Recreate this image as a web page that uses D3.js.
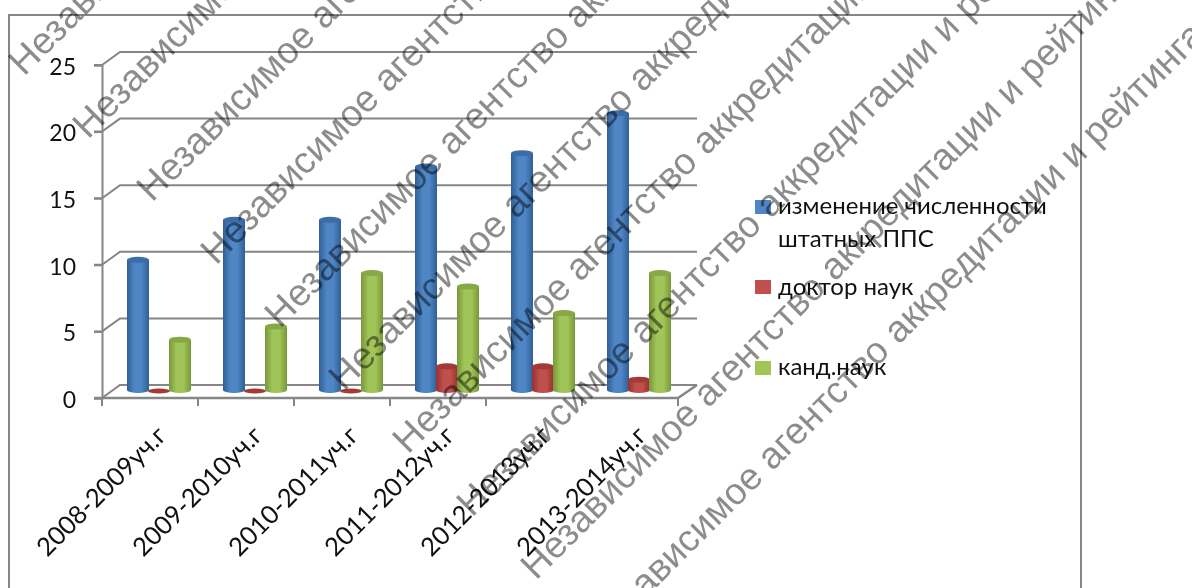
<!DOCTYPE html>
<html>
<head>
<meta charset="utf-8">
<script src="https://cdn.jsdelivr.net/npm/d3@7"></script>
<style>
html, body { margin: 0; padding: 0; background: #fff; overflow: hidden; }
svg { display: block; filter: blur(0.45px); }
</style>
</head>
<body>
<div id="chart"></div>
<script>
const categories = ["2008-2009уч.г", "2009-2010уч.г", "2010-2011уч.г", "2011-2012уч.г", "2012-2013уч.г", "2013-2014уч.г"];
const seriesNames = ["изменение численности штатных ППС", "доктор наук", "канд.наук"];
const staffChange = [10, 13, 13, 17, 18, 21];
const doctors = [0, 0, 0, 2, 2, 1];
const candidates = [4, 5, 9, 8, 6, 9];
const yTicks = [0, 5, 10, 15, 20, 25];
const watermark = "Независимое агентство аккредитации и рейтинга";

const width = 1192;
const height = 588;
const font = "Lato, sans-serif";
const gridColor = "#868686";

// depth offset of the back wall
const depth = { x: 18, y: -13 };

const svg = d3.select("#chart").append("svg")
  .attr("width", width)
  .attr("height", height);

const defs = svg.append("defs");

const palette = [
  { edge: "#2f5f94", mid: "#4f86c6", top: "#3c6da6" },
  { edge: "#93312f", mid: "#c0504d", top: "#a23b38" },
  { edge: "#76983a", mid: "#a2c55a", top: "#86a846" }
];
palette.forEach((p, i) => {
  const g = defs.append("linearGradient").attr("id", "cyl" + i);
  g.append("stop").attr("offset", "0%").attr("stop-color", p.edge);
  g.append("stop").attr("offset", "35%").attr("stop-color", p.mid);
  g.append("stop").attr("offset", "65%").attr("stop-color", p.mid);
  g.append("stop").attr("offset", "100%").attr("stop-color", p.edge);
});

const x = d3.scaleBand().domain(categories).range([102, 678]);
const y = d3.scaleLinear().domain([0, 25]).range([398, 65]);
const series = d3.scalePoint().domain(d3.range(3)).range([25, 67]);
const barW = 22;

// outer frame
svg.append("path")
  .attr("d", `M9,${height}V15H1081V${height}`)
  .attr("fill", "none")
  .attr("stroke", gridColor)
  .attr("stroke-width", 2);

// gridlines on the back wall and the wall edge
const grid = svg.append("g")
  .attr("fill", "none")
  .attr("stroke", gridColor)
  .attr("stroke-width", 2);

grid.selectAll("path")
  .data(yTicks)
  .join("path")
  .attr("d", d => `M94,${y(d)}H102L${102 + depth.x},${y(d) + depth.y}H697`);

// floor and axes
const yAxis = d3.axisLeft(y).tickValues(yTicks).tickSize(8).tickPadding(18);
const yG = svg.append("g").attr("transform", "translate(102,0)").call(yAxis);
yG.selectAll("line, path").attr("stroke", gridColor).attr("stroke-width", 2);
yG.selectAll("text")
  .attr("font-family", font)
  .attr("font-size", 23)
  .attr("fill", "#111")
  .attr("y", 2);

const tickPos = categories.map(c => x(c)).concat(678);
svg.append("g").selectAll("line")
  .data(tickPos)
  .join("line")
  .attr("x1", d => d).attr("x2", d => d)
  .attr("y1", 398).attr("y2", 406)
  .attr("stroke", gridColor)
  .attr("stroke-width", 2);

svg.append("path")
  .attr("d", `M94,398H678L697,${398 + depth.y}`)
  .attr("fill", "none")
  .attr("stroke", gridColor)
  .attr("stroke-width", 2.5);

// category labels
svg.append("g").selectAll("text")
  .data(categories)
  .join("text")
  .attr("transform", d => `translate(${x(d) + 66},437) rotate(-45)`)
  .attr("text-anchor", "end")
  .attr("font-family", font)
  .attr("font-size", 25.5)
  .attr("fill", "#111")
  .text(d => d);

// cylinders
const rows = [staffChange, doctors, candidates];
rows.forEach((values, s) => {
  const p = palette[s];
  const g = svg.append("g");
  g.selectAll("path")
    .data(values)
    .join("path")
    .attr("d", (v, i) => {
      const x0 = x(categories[i]) + series(s);
      const top = y(v) - 5;
      const base = y(0) - 8;
      if (v === 0) return "";
      return `M${x0},${top}V${base}A${barW / 2},3 0 0 0 ${x0 + barW},${base}V${top}Z`;
    })
    .attr("fill", `url(#cyl${s})`);
  g.selectAll("ellipse")
    .data(values)
    .join("ellipse")
    .attr("cx", (v, i) => x(categories[i]) + series(s) + barW / 2)
    .attr("cy", v => y(v) - (v === 0 ? 7 : 5))
    .attr("rx", barW / 2)
    .attr("ry", v => v === 0 ? 2.5 : 3)
    .attr("fill", p.top);
});

// legend
const legendRows = [
  { lines: ["изменение численности", "штатных ППС"], y: 200, base: 214 },
  { lines: [seriesNames[1]], y: 280, base: 295 },
  { lines: [seriesNames[2]], y: 361, base: 375 }
];
const legend = svg.append("g");
legendRows.forEach((r, i) => {
  legend.append("rect")
    .attr("x", 755).attr("y", r.y)
    .attr("width", 16).attr("height", 14)
    .attr("fill", palette[i].mid);
  r.lines.forEach((t, j) => {
    legend.append("text")
      .attr("x", 778).attr("y", r.base + j * 33)
      .attr("font-family", font)
      .attr("font-size", 24)
      .attr("fill", "#111")
      .text(t);
  });
});

// diagonal watermark over everything
const wm = svg.append("g")
  .attr("font-family", "'Liberation Sans', sans-serif")
  .attr("font-size", 37.5)
  .attr("fill", "#000")
  .attr("fill-opacity", 0.45);
d3.range(10).forEach(i => {
  wm.append("text")
    .attr("transform", `translate(${24 + i * 64},${77 + i * 63}) rotate(-45)`)
    .text(watermark);
});
</script>
</body>
</html>
